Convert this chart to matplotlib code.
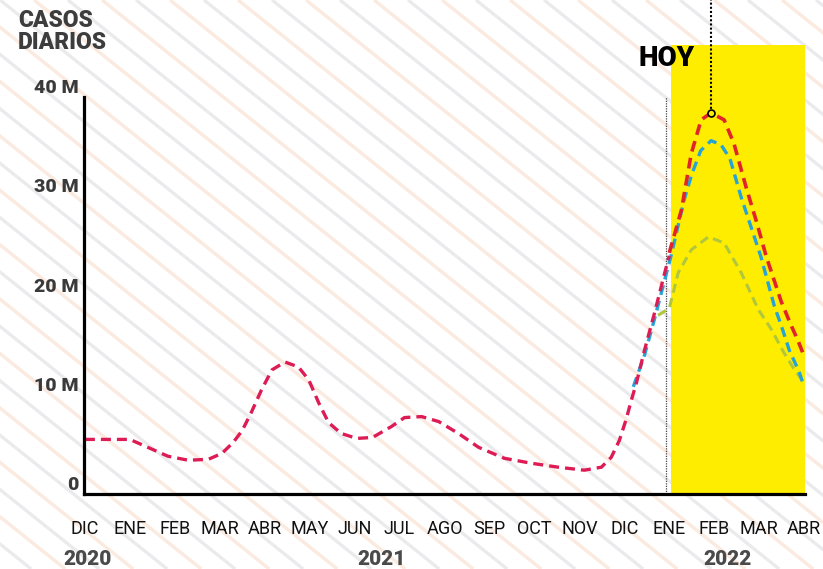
import matplotlib
matplotlib.use("Agg")
import matplotlib.pyplot as plt
from matplotlib.transforms import ScaledTranslation
import numpy as np

plt.rcParams['font.family'] = ['Roboto', 'DejaVu Sans']

# month index: 0 = DIC 2020 ... 16 = ABR 2022
month_labels = ['DIC', 'ENE', 'FEB', 'MAR', 'ABR', 'MAY', 'JUN', 'JUL', 'AGO',
                'SEP', 'OCT', 'NOV', 'DIC', 'ENE', 'FEB', 'MAR', 'ABR']
years = ['2020', '2021', '2022']
year_pos = [0.05, 6.6, 14.3]
y_ticks = [0, 10, 20, 30, 40]
y_labels = ['0', '10 M', '20 M', '30 M', '40 M']

# daily cases (millions) - observed
obs_m = [0.0, 0.5, 1.0, 1.4, 1.85, 2.3, 2.75, 3.05, 3.3, 3.5, 3.7, 3.93, 4.16,
         4.45, 4.75, 4.98, 5.2, 5.42, 5.7, 6.05, 6.4, 6.82, 7.11, 7.49, 7.87,
         8.31, 8.76, 9.33, 9.93, 10.53, 11.11, 11.49, 11.71, 11.89, 12.04,
         12.16, 12.27, 12.45, 12.67, 12.9, 13.0]
obs_v = [5.5, 5.5, 5.5, 4.7, 3.8, 3.4, 3.5, 4.1, 5.2, 6.4, 8.2, 10.5, 12.5,
         13.3, 12.8, 11.5, 9.2, 7.2, 6.1, 5.6, 5.7, 6.8, 7.7, 7.8, 7.3,
         6.1, 4.7, 3.6, 3.1, 2.7, 2.4, 2.7, 3.7, 5.4, 7.5,
         9.5, 11.2, 14.5, 18.2, 22.3, 24.0]

# projections
red_m = [13.0, 13.27, 13.49, 13.71, 13.93, 14.22, 14.44, 14.71, 14.93, 15.16,
         15.49, 15.71, 15.86, 16.0]
red_v = [24.3, 28.6, 34.3, 37.7, 38.4, 37.7, 35.3, 30.9, 27.6, 23.9,
         19.4, 17.0, 15.5, 13.9]
blue_m = [12.2, 12.45, 12.67, 12.9, 13.04, 13.33, 13.5, 13.7, 13.93, 14.15,
          14.35, 14.6, 14.82, 15.04, 15.34, 15.49, 15.67, 15.89, 16.0]
blue_v = [10.8, 14.0, 17.6, 21.6, 24.0, 29.6, 32.2, 34.6, 35.6, 35.2,
          33.8, 29.9, 26.9, 23.9, 18.9, 17.0, 14.5, 12.3, 10.8]
green_m = [12.75, 13.0, 13.2, 13.49, 13.87, 14.22, 14.6, 14.98, 15.27, 15.53,
           15.76, 16.0]
green_v = [18.0, 18.7, 22.3, 24.6, 25.9, 25.3, 22.3, 18.6, 16.6, 14.4,
           12.7, 11.2]

fig = plt.figure(figsize=(8.23, 5.69), dpi=100)

# striped background
bg = fig.add_axes([0, 0, 1, 1], zorder=-1)
bg.set_xlim(0, 823)
bg.set_ylim(569, 0)
bg.axis('off')
for k in range(-25, 26):
    x0 = k * 34
    c = '#ebebee' if k % 2 == 0 else '#fbeadf'
    bg.plot([x0, x0 + 569 / 0.8], [0, 569], color=c, lw=2.4,
            solid_capstyle='butt')

ax = fig.add_axes([84 / 823, 1 - 494 / 569, 721 / 823, 449 / 569])
ax.set_facecolor('none')
ax.set_xlim(-0.02, 16.02)
ax.set_ylim(0, 45.24)

ax.axvspan(13.04, 16.1, color='#ffed00', lw=0, zorder=1)
ax.plot([12.93, 12.93], [0, 40], color='#444444', lw=0.9,
        linestyle=(0, (1, 1)), zorder=2)

dash = (3.0, 1.8)
ax.plot(green_m, green_v, color='#b0c63c', lw=2.2, dashes=dash, zorder=3)
ax.plot(blue_m, blue_v, color='#27a3d6', lw=2.4, dashes=dash, zorder=4)
ax.plot(red_m, red_v, color='#e0242a', lw=2.6, dashes=dash, zorder=5)
ax.plot(obs_m, obs_v, color='#dd1c55', lw=2.4, dashes=dash, zorder=6)

# "HOY" marker at the projected peak
i_peak = int(np.argmax(red_v))
pk_m, pk_v = red_m[i_peak], red_v[i_peak]
ax.plot([pk_m, pk_m], [pk_v, 49.8], color='black', lw=1.5,
        linestyle=(0, (1, 1)), clip_on=False, zorder=7)
ax.plot([pk_m], [pk_v], marker='o', ms=5, mfc='#ffed00', mec='black',
        mew=1.2, zorder=8)
ax.text(12.93, 43.9, 'HOY', ha='center', va='center', fontsize=20,
        fontweight='black', color='black')

for s in ['top', 'right']:
    ax.spines[s].set_visible(False)
ax.spines['left'].set_bounds(0, 40)
ax.spines['left'].set_linewidth(2.3)
ax.spines['bottom'].set_linewidth(2.3)
ax.spines['left'].set_zorder(9)
ax.spines['bottom'].set_zorder(9)

ax.set_xticks(range(len(month_labels)))
ax.set_xticklabels(month_labels, fontsize=13, color='#111111')
ax.tick_params(axis='x', which='major', length=0, pad=19)
ax.set_xticks([1, 13], minor=True)
ax.tick_params(axis='x', which='minor', length=13, width=1.6, color='black')

ax.set_yticks([])
off = ScaledTranslation(0, 9 / 100, fig.dpi_scale_trans)
for v, lab in zip(y_ticks, y_labels):
    ax.text(-0.008, v, lab, transform=ax.get_yaxis_transform() + off,
            ha='right', va='center', fontsize=14, fontweight='black',
            color='#3a3a3a')

for yr, p in zip(years, year_pos):
    ax.text(p, -0.146, yr, transform=ax.get_xaxis_transform(),
            ha='center', va='center', fontsize=15, fontweight='black',
            color='#4a4a4a')

fig.text(18 / 823, 1 - 9 / 569, 'CASOS\nDIARIOS', ha='left', va='top',
         fontsize=16.5, fontweight='black', color='#3d3d3d', linespacing=0.95)

fig.savefig('out.png', dpi=100)
